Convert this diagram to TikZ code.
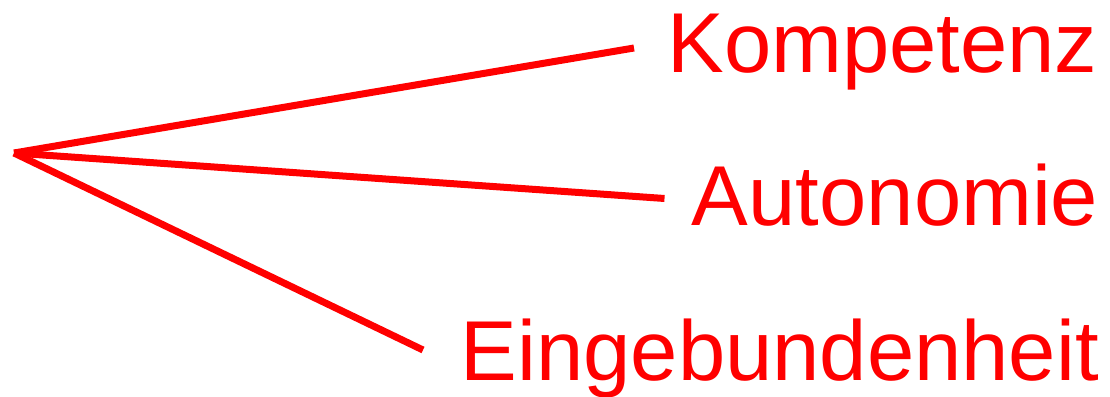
\documentclass[tikz,border=0pt]{standalone}
\usepackage{fontspec}
\setmainfont{Liberation Sans}
\definecolor{lred}{RGB}{255,0,0}
\begin{document}
\begin{tikzpicture}[x=1pt,y=1pt,
  branch/.style={draw=lred,line width=7pt,line cap=butt},
  label/.style={text=lred,inner sep=0pt,anchor=base east,font=\fontsize{85}{100}\selectfont}]
\useasboundingbox (0,0) rectangle (1110,396);
\coordinate (o) at (14,243);
\coordinate (k) at (634,348);
\coordinate (a) at (664.5,197.5);
\coordinate (e) at (423,46);
\node[label] (tk) at (1097.5,323.7) {Kompetenz};
\node[label] (ta) at (1098.5,170) {Autonomie};
\node[label] (te) at (1099,16) {Eingebundenheit};
\draw[branch] (o) -- (k);
\draw[branch] (o) -- (a);
\draw[branch] (o) -- (e);
\end{tikzpicture}
\end{document}
